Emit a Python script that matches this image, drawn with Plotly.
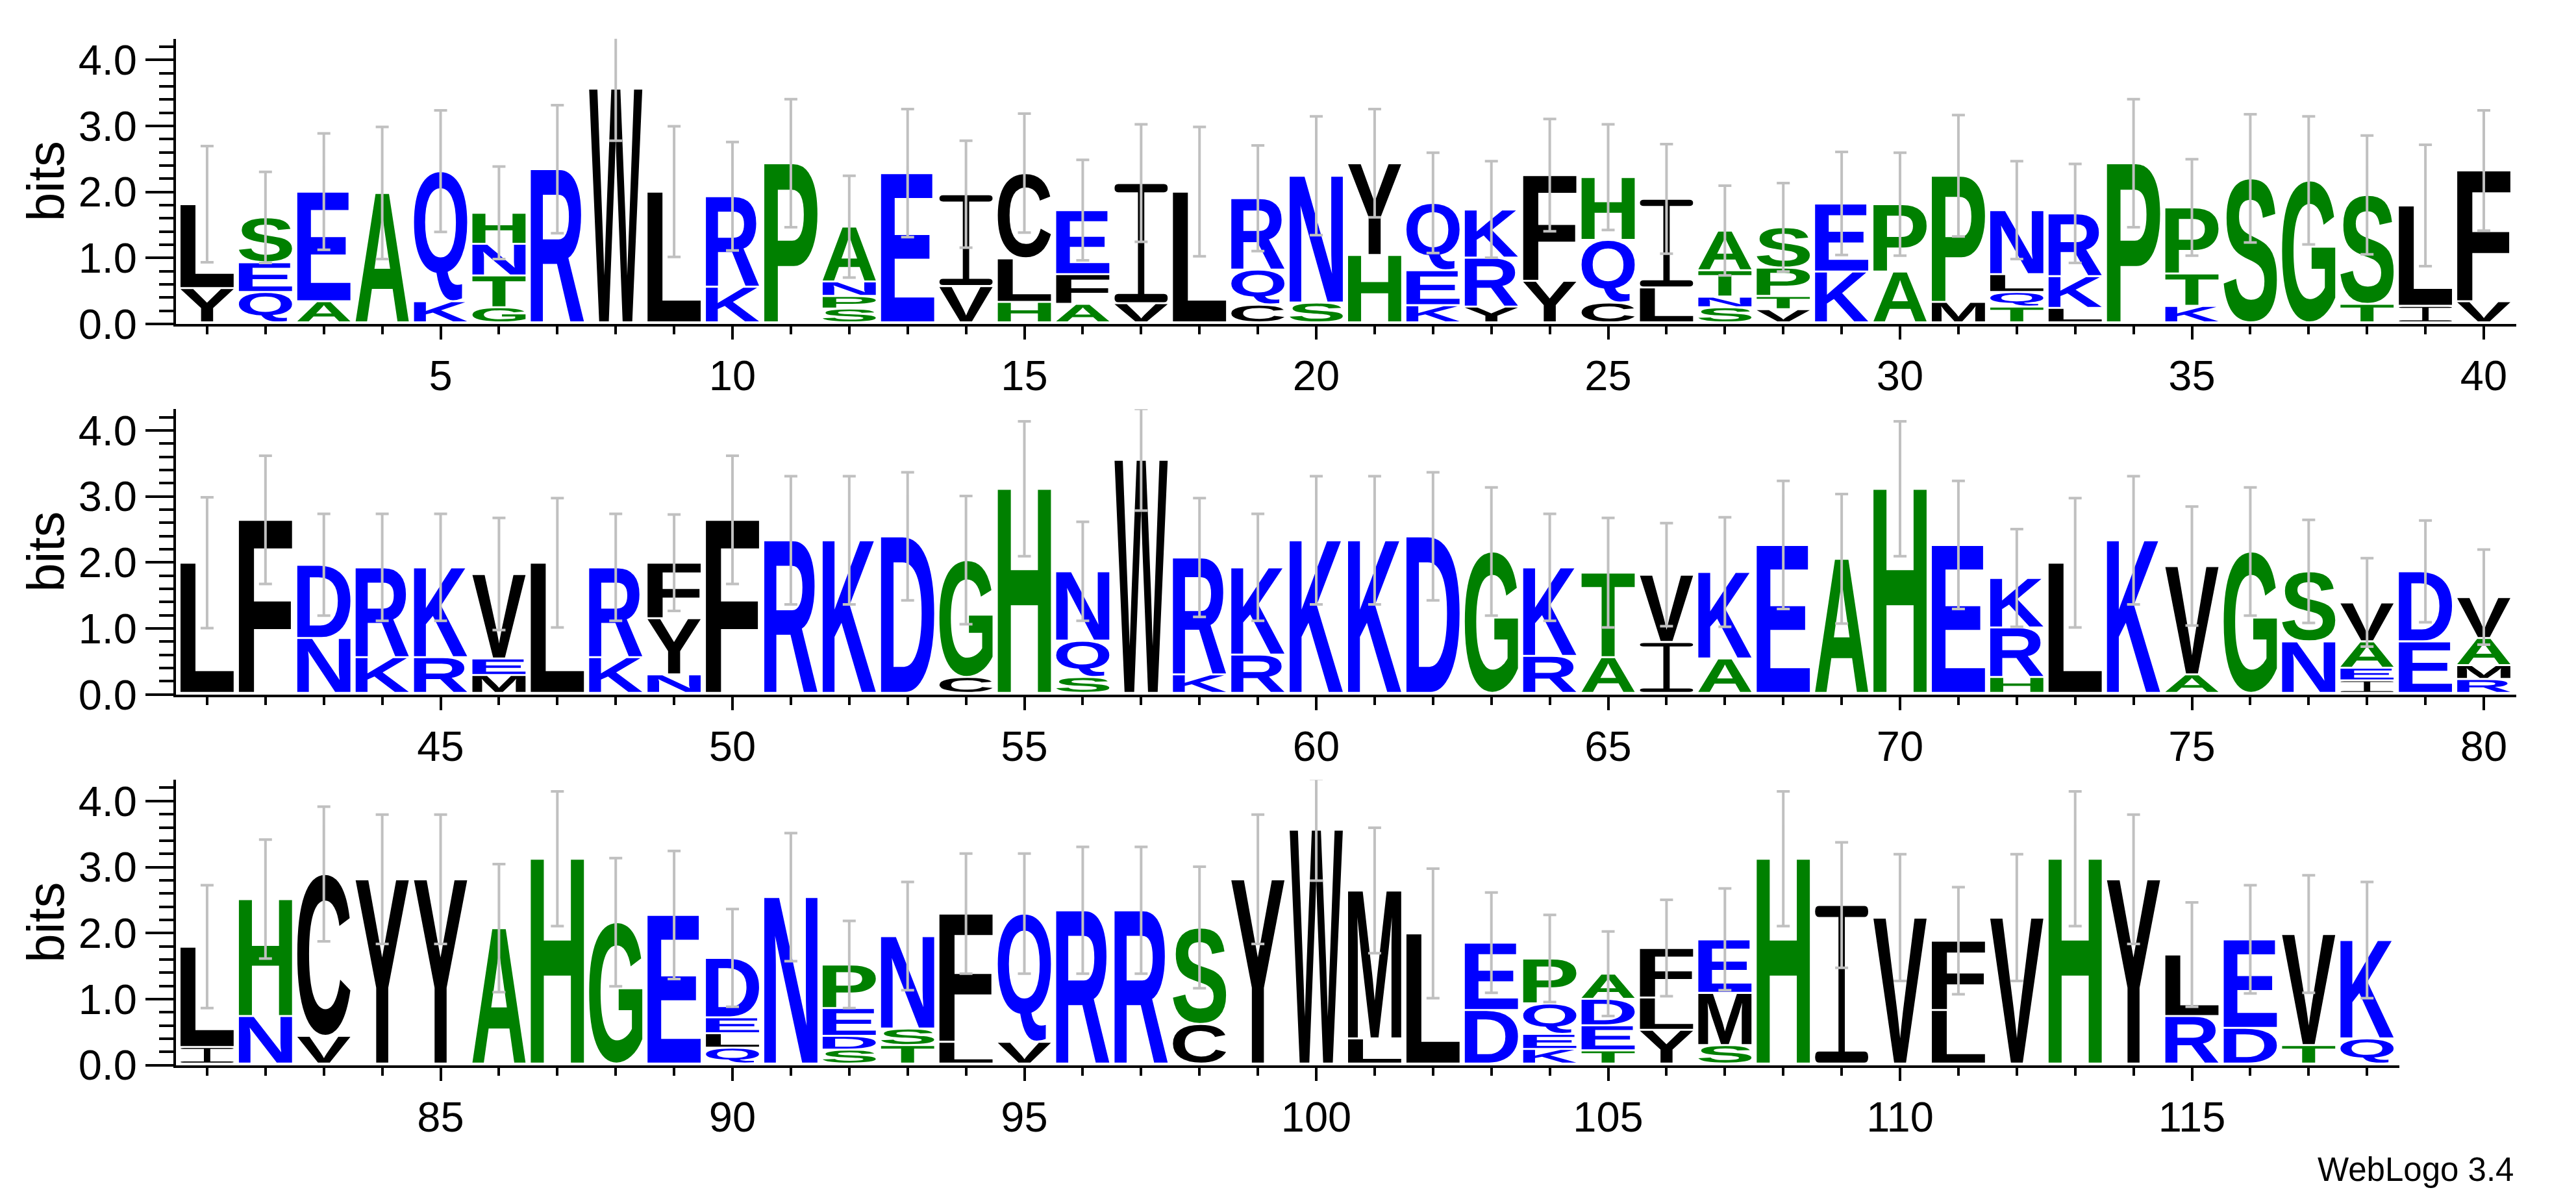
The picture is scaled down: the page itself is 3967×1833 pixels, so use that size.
"""Sequence logo (WebLogo 3.4 style) rebuilt with Plotly shapes.

Each letter is the outline of a bold sans glyph read from the system TTF,
stretched into its stack slot in data coordinates.
"""
import struct
from pathlib import Path

import plotly.graph_objects as go

# letters per position, bottom -> top; heights in bits; error half-widths
LETTERS_1 = ["YL", "QES", "AE", "A", "KQ", "GTNH", "R", "W", "L", "KR",
             "P", "SPNA", "E", "VI", "HLC", "AFE", "VI", "L", "CQR", "SN",
             "HY", "KEQ", "YRK", "YF", "CQH", "LI", "SNTA", "VTPS", "KE", "AP",
             "MP", "TQLN", "LKR", "P", "KTP", "S", "G", "TS", "IL", "VF"]
HEIGHTS_1 = [[0.52, 1.27], [0.46, 0.45, 0.68], [0.32, 1.66], [1.96], [0.32, 1.97],
             [0.23, 0.48, 0.48, 0.47], [2.32], [3.54], [1.98], [0.54, 1.37],
             [2.41], [0.21, 0.19, 0.22, 0.83], [2.26], [0.55, 1.39], [0.31, 0.66, 1.29],
             [0.28, 0.45, 0.97], [0.29, 1.82], [1.98], [0.27, 0.53, 1.08], [0.30, 1.92],
             [1.02, 1.39], [0.26, 0.53, 1.02], [0.24, 0.74, 0.73], [0.63, 1.60], [0.30, 0.95, 0.95],
             [0.53, 1.34], [0.23, 0.16, 0.40, 0.60], [0.20, 0.20, 0.43, 0.61], [0.77, 1.03], [0.77, 1.02],
             [0.31, 1.91], [0.24, 0.22, 0.27, 0.97], [0.22, 0.48, 0.95], [2.41], [0.25, 0.49, 1.00],
             [2.18], [2.15], [0.28, 1.65], [0.25, 1.52], [0.32, 1.98]]
ERRORS_1 = [0.88, 0.69, 0.88, 1.00, 0.92, 0.70, 0.97, 0.79, 0.99, 0.82,
            0.97, 0.77, 0.97, 0.81, 0.90, 0.76, 0.89, 0.98, 0.80, 0.90,
            0.82, 0.76, 0.73, 0.85, 0.80, 0.83, 0.68, 0.67, 0.78, 0.78,
            0.92, 0.74, 0.75, 0.97, 0.73, 0.97, 0.97, 0.90, 0.92, 0.91]

LETTERS_2 = ["L", "F", "ND", "KR", "RK", "MEV", "L", "KR", "NYF", "F",
             "R", "K", "D", "CG", "H", "SQN", "W", "KR", "RK", "K",
             "K", "D", "G", "RK", "AT", "IV", "AK", "E", "A", "H",
             "E", "HRK", "L", "K", "AV", "G", "NS", "IEAV", "ED", "RMAV"]
HEIGHTS_2 = [[1.97], [2.62], [0.83, 1.11], [0.54, 1.36], [0.54, 1.36],
             [0.27, 0.25, 1.28], [1.97], [0.54, 1.36], [0.28, 0.85, 0.84], [2.62],
             [2.31], [2.31], [2.37], [0.24, 1.77], [3.09],
             [0.24, 0.55, 1.05], [3.53], [0.28, 1.77], [0.58, 1.32], [2.31],
             [2.31], [2.37], [2.14], [0.56, 1.34], [0.54, 1.28],
             [0.77, 1.02], [0.52, 1.31], [2.24], [2.03], [3.09],
             [2.24], [0.24, 0.75, 0.75], [1.97], [2.31], [0.28, 1.64],
             [2.14], [0.78, 1.06], [0.19, 0.19, 0.40, 0.59], [0.78, 1.06], [0.21, 0.21, 0.41, 0.62]]
ERRORS_2 = [0.99, 0.97, 0.77, 0.81, 0.81, 0.85, 0.98, 0.81, 0.73, 0.97,
            0.97, 0.97, 0.97, 0.97, 1.02, 0.75, 0.77, 0.90, 0.81, 0.97,
            0.97, 0.97, 0.97, 0.81, 0.83, 0.78, 0.83, 0.97, 0.98, 1.02,
            0.97, 0.74, 0.98, 0.97, 0.90, 0.97, 0.78, 0.67, 0.77, 0.72]

LETTERS_3 = ["IL", "NH", "VC", "Y", "Y", "A", "H", "G", "E", "QLED",
             "N", "SDEP", "TSN", "LF", "VQ", "R", "R", "CS", "Y", "W",
             "LM", "L", "DE", "KEQP", "TEDA", "YLF", "SME", "H", "I", "V",
             "LF", "V", "H", "Y", "RL", "DE", "TV", "QK"]
HEIGHTS_3 = [[0.25, 1.52], [0.72, 1.77], [0.42, 2.45], [2.79], [2.79],
             [2.05], [3.10], [2.14], [2.25], [0.24, 0.22, 0.24, 0.90],
             [2.52], [0.21, 0.21, 0.42, 0.66], [0.28, 0.25, 1.40], [0.33, 1.94], [0.33, 1.94],
             [2.32], [2.32], [0.60, 1.46], [2.79], [3.54],
             [0.38, 2.24], [1.97], [0.81, 1.02], [0.22, 0.23, 0.46, 0.68], [0.20, 0.38, 0.40, 0.38],
             [0.51, 0.49, 0.75], [0.28, 0.79, 0.81], [3.10], [2.40], [2.21],
             [0.81, 1.05], [2.21], [3.10], [2.79], [0.72, 0.93],
             [0.54, 1.34], [0.28, 1.68], [0.38, 1.49]]
ERRORS_3 = [0.93, 0.90, 1.02, 0.98, 0.98, 0.97, 1.02, 0.97, 0.97, 0.74,
            0.97, 0.66, 0.82, 0.91, 0.91, 0.96, 0.96, 0.92, 0.98, 0.77,
            0.95, 0.98, 0.76, 0.66, 0.64, 0.73, 0.77, 1.02, 0.95, 0.96,
            0.81, 0.96, 1.02, 0.98, 0.79, 0.82, 0.89, 0.88]

FIRST_POS = [1, 41, 81]
Y_MAX = 4.32  # log2(20)

# hydrophobicity colour scheme
COLOR = {}
COLOR.update({c: "#0000ff" for c in "RKDENQ"})
COLOR.update({c: "#008000" for c in "SGHTAP"})
COLOR.update({c: "#000000" for c in "YVMCLFIW"})

FONT = "Arial, Liberation Sans, Helvetica, sans-serif"
W, H = 3967, 1833


# ---------------------------------------------------------------- glyphs
def _find_font():
    for name in ["LiberationSans-Bold.ttf", "Arial_Bold.ttf", "arialbd.ttf",
                 "DejaVuSans-Bold.ttf", "Roboto-Bold.ttf"]:
        for root in ["/usr/share/fonts", "/usr/local/share/fonts"]:
            if Path(root).exists():
                hits = sorted(Path(root).rglob(name))
                if hits:
                    return hits[0]
    raise FileNotFoundError("no bold sans TTF found")


def _contour_cmds(pts):
    start = next((i for i, p in enumerate(pts) if p[2]), None)
    if start is None:
        p0 = ((pts[0][0] + pts[-1][0]) / 2, (pts[0][1] + pts[-1][1]) / 2)
        seq = pts
    else:
        p0 = pts[start][:2]
        seq = pts[start + 1:] + pts[:start + 1]
    cmds = [("M", p0)]
    ctrl = None
    for x, y, on in seq:
        if on:
            cmds.append(("L", (x, y)) if ctrl is None else ("Q", ctrl, (x, y)))
            ctrl = None
        else:
            if ctrl is not None:
                cmds.append(("Q", ctrl, ((ctrl[0] + x) / 2, (ctrl[1] + y) / 2)))
            ctrl = (x, y)
    if ctrl is not None:
        cmds.append(("Q", ctrl, p0))
    cmds.append(("Z",))
    return cmds


def load_glyphs(path, chars):
    data = Path(path).read_bytes()
    tab = {}
    for i in range(struct.unpack_from(">H", data, 4)[0]):
        tag, _, off, _ = struct.unpack_from(">4sIII", data, 12 + 16 * i)
        tab[tag.decode("latin-1")] = off
    loc_fmt = struct.unpack_from(">h", data, tab["head"] + 50)[0]
    ng = struct.unpack_from(">H", data, tab["maxp"] + 4)[0]
    if loc_fmt == 0:
        loca = [2 * v for v in struct.unpack_from(f">{ng + 1}H", data, tab["loca"])]
    else:
        loca = list(struct.unpack_from(f">{ng + 1}I", data, tab["loca"]))

    cm = tab["cmap"]
    sub = None
    for i in range(struct.unpack_from(">H", data, cm + 2)[0]):
        pid, eid, off = struct.unpack_from(">HHI", data, cm + 4 + 8 * i)
        if pid == 3 and eid == 1 and struct.unpack_from(">H", data, cm + off)[0] == 4:
            sub = cm + off
    seg2 = struct.unpack_from(">H", data, sub + 6)[0]
    n = seg2 // 2
    ends = struct.unpack_from(f">{n}H", data, sub + 14)
    starts = struct.unpack_from(f">{n}H", data, sub + 16 + seg2)
    deltas = struct.unpack_from(f">{n}h", data, sub + 16 + 2 * seg2)
    ro_at = sub + 16 + 3 * seg2
    ros = struct.unpack_from(f">{n}H", data, ro_at)

    def gid(ch):
        c = ord(ch)
        for i in range(n):
            if starts[i] <= c <= ends[i]:
                if ros[i] == 0:
                    return (c + deltas[i]) & 0xFFFF
                g = struct.unpack_from(">H", data, ro_at + 2 * i + ros[i] + 2 * (c - starts[i]))[0]
                return (g + deltas[i]) & 0xFFFF if g else 0
        return 0

    out = {}
    for ch in chars:
        p = tab["glyf"] + loca[gid(ch)]
        nc, x0, y0, x1, y1 = struct.unpack_from(">hhhhh", data, p)
        p += 10
        if nc <= 0:
            continue
        end_pts = struct.unpack_from(f">{nc}H", data, p)
        p += 2 * nc
        p += 2 + struct.unpack_from(">H", data, p)[0]
        npts = end_pts[-1] + 1
        flags = []
        while len(flags) < npts:
            f = data[p]
            p += 1
            flags.append(f)
            if f & 8:
                flags.extend([f] * data[p])
                p += 1
        flags = flags[:npts]
        coords = []
        for short, same in ((2, 16), (4, 32)):
            v, vals = 0, []
            for f in flags:
                if f & short:
                    d = data[p]
                    p += 1
                    v += d if f & same else -d
                elif not f & same:
                    v += struct.unpack_from(">h", data, p)[0]
                    p += 2
                vals.append(v)
            coords.append(vals)
        w, h = x1 - x0, y1 - y0
        pts = [((x - x0) / w, (y - y0) / h, f & 1) for x, y, f in zip(*coords, flags)]
        contours, s = [], 0
        for e in end_pts:
            contours.append(_contour_cmds(pts[s:e + 1]))
            s = e + 1
        out[ch] = contours
    return out


def _serif_i():
    # WebLogo draws I with rounded cross-bars so it stays visible
    r, t, a, b = 0.07, 0.07, 0.44, 0.56
    return [[("M", (r, 0)), ("L", (1 - r, 0)), ("Q", (1, 0), (1, t / 2)),
             ("Q", (1, t), (1 - r, t)), ("L", (b, t)), ("L", (b, 1 - t)),
             ("L", (1 - r, 1 - t)), ("Q", (1, 1 - t), (1, 1 - t / 2)),
             ("Q", (1, 1), (1 - r, 1)), ("L", (r, 1)), ("Q", (0, 1), (0, 1 - t / 2)),
             ("Q", (0, 1 - t), (r, 1 - t)), ("L", (a, 1 - t)), ("L", (a, t)),
             ("L", (r, t)), ("Q", (0, t), (0, t / 2)), ("Q", (0, 0), (r, 0)), ("Z",)]]


GLYPHS = load_glyphs(_find_font(), "ACDEFGHKLMNPQRSTVWY")
GLYPHS["I"] = _serif_i()


def glyph_path(ch, x0, x1, y0, y1):
    sx, sy = x1 - x0, y1 - y0
    f = lambda pt: f"{x0 + pt[0] * sx:.4f},{y0 + pt[1] * sy:.4f}"
    parts = []
    for cmds in GLYPHS[ch]:
        for c in cmds:
            if c[0] == "Q":
                parts.append("Q" + f(c[1]) + " " + f(c[2]))
            elif c[0] == "Z":
                parts.append("Z")
            else:
                parts.append(c[0] + f(c[1]))
    return "".join(parts)


# ---------------------------------------------------------------- layout geometry
PAD_L, PAD_R = 0.533, 0.556          # axis overhang around first/last column
LEFT_PX, RIGHT_PX = 263, 3867         # y-axis line / end of a full 40-column row
UNIT_PX = (RIGHT_PX - LEFT_PX) / (39 + PAD_L + PAD_R)
ZERO_PX = [499.0, 1082.4, 1666.1]     # y pixel of 0 bits per row
BIT_PX = 104.0
HALF = 0.455                          # half letter width (columns)
BASE = 0.025                          # letters sit just above the axis line
GAP = 0.03                            # vertical gap between stacked letters

rows = [(LETTERS_1, HEIGHTS_1, ERRORS_1), (LETTERS_2, HEIGHTS_2, ERRORS_2),
        (LETTERS_3, HEIGHTS_3, ERRORS_3)]

fig = go.Figure()
shapes, annotations = [], []
axis_common = dict(showline=True, linewidth=4, linecolor="black", mirror=False,
                   showgrid=False, zeroline=False, ticks="outside", tickwidth=4,
                   tickcolor="black", tickfont=dict(family=FONT, size=65, color="black"))

for r, (letters, heights, errs) in enumerate(rows):
    sfx = "" if r == 0 else str(r + 1)
    first = FIRST_POS[r]
    pos = list(range(first, first + len(letters)))
    totals = []
    for p, seq, hs in zip(pos, letters, heights):
        y = BASE
        for ch, h in zip(seq, hs):
            shapes.append(dict(type="path", xref="x" + sfx, yref="y" + sfx,
                               path=glyph_path(ch, p - HALF, p + HALF, y + GAP / 2, y + h - GAP / 2),
                               fillcolor=COLOR[ch], line=dict(width=0),
                               fillrule="evenodd", layer="below"))
            y += h
        totals.append(y)

    fig.add_trace(go.Scatter(
        x=pos, y=totals, mode="markers", xaxis="x" + sfx, yaxis="y" + sfx,
        marker=dict(size=1, color="rgba(0,0,0,0)"), showlegend=False, hoverinfo="skip",
        error_y=dict(type="data", array=errs, color="#c0c0c0", thickness=4, width=10),
    ))

    n = len(letters)
    right_px = LEFT_PX + (n - 1 + PAD_L + PAD_R) * UNIT_PX
    y0_px = ZERO_PX[r]
    y1_px = y0_px - Y_MAX * BIT_PX
    dom_y = [1 - y0_px / H, 1 - y1_px / H]
    fig.update_layout({
        "xaxis" + sfx: dict(axis_common, domain=[LEFT_PX / W, right_px / W],
                            range=[first - PAD_L, first + n - 1 + PAD_R],
                            anchor="y" + sfx, tickmode="linear", tick0=0, dtick=5, ticklen=20,
                            minor=dict(ticks="outside", tick0=0, dtick=1, ticklen=12,
                                       tickwidth=4, tickcolor="black", showgrid=False)),
        "yaxis" + sfx: dict(axis_common, domain=dom_y, range=[0, Y_MAX],
                            anchor="x" + sfx, tickmode="linear", tick0=0, dtick=1,
                            tickformat=".1f", ticklen=43,
                            minor=dict(ticks="outside", tick0=0, dtick=0.2, ticklen=22,
                                       tickwidth=4, tickcolor="black", showgrid=False)),
    })
    annotations.append(dict(text="bits", xref="paper", yref="paper", x=62 / W,
                            y=sum(dom_y) / 2, xanchor="center", yanchor="middle",
                            textangle=-90, showarrow=False,
                            font=dict(family=FONT, size=80, color="black")))

annotations.append(dict(text="WebLogo 3.4", xref="paper", yref="paper",
                        x=3865 / W, y=1 - 1830 / H, xanchor="right", yanchor="middle",
                        showarrow=False, font=dict(family=FONT, size=51, color="black")))

fig.update_layout(width=W, height=H, margin=dict(l=0, r=0, t=0, b=0),
                  paper_bgcolor="white", plot_bgcolor="white",
                  shapes=shapes, annotations=annotations, showlegend=False)
fig.write_html("out.html")
